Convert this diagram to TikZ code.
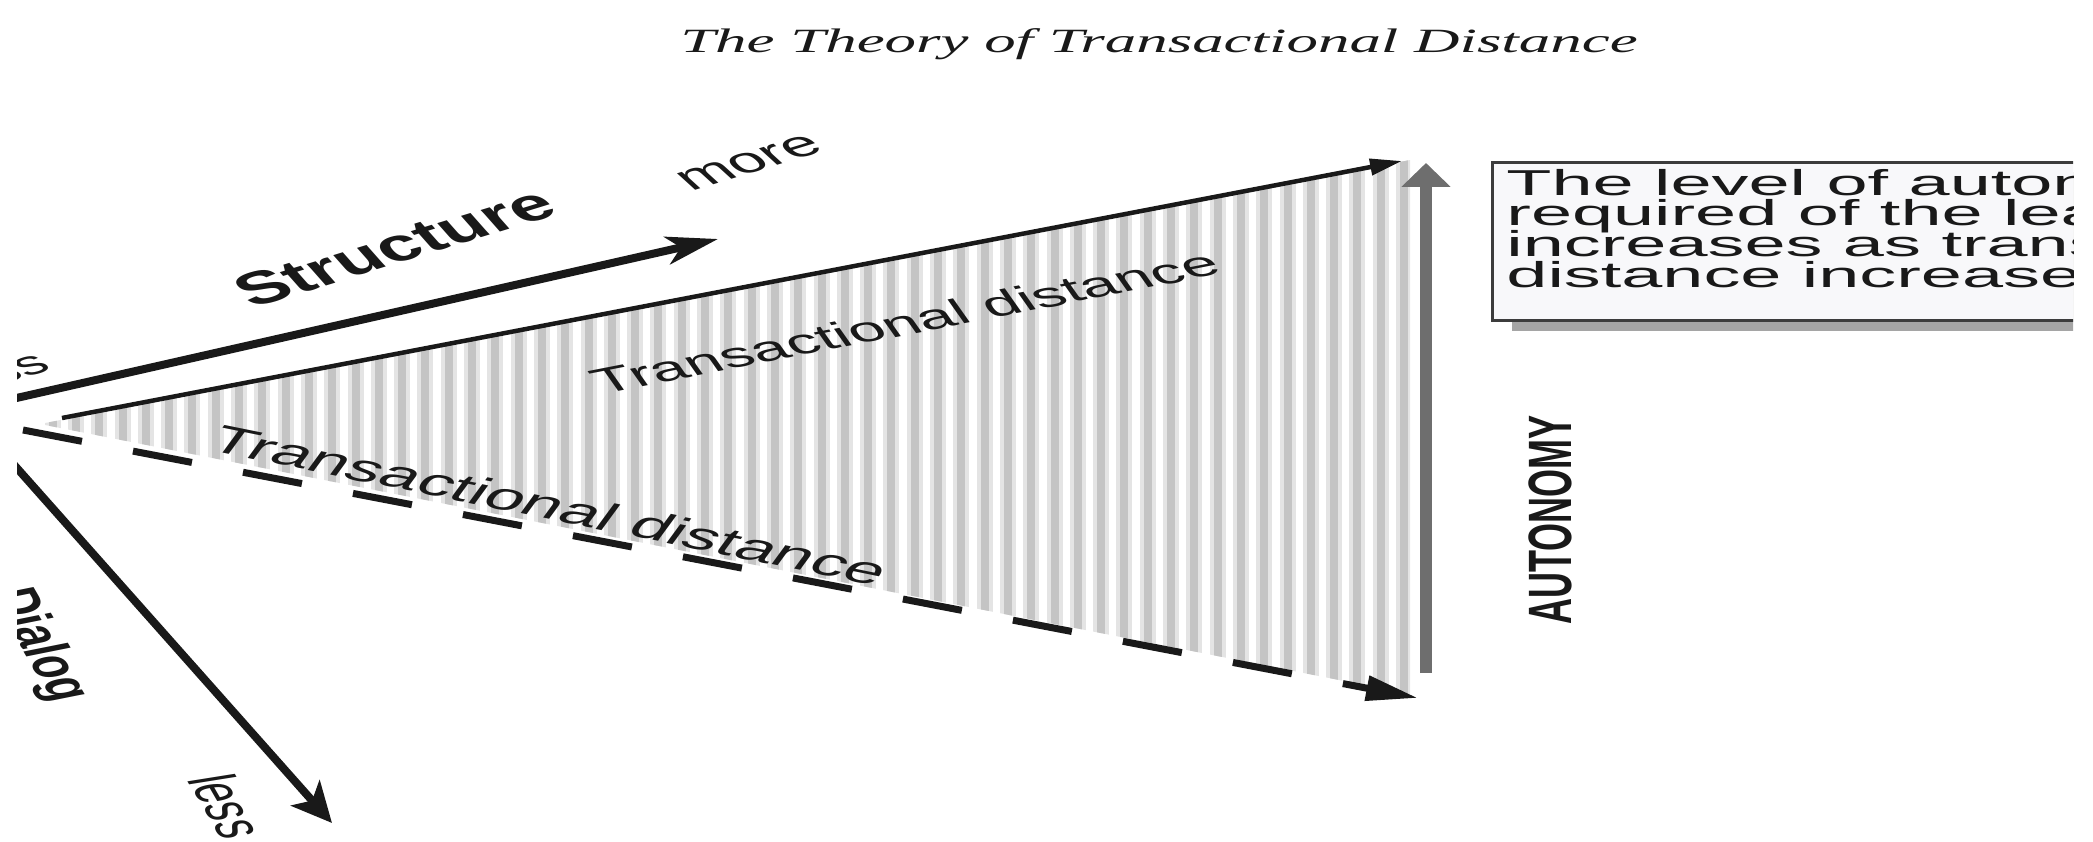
\documentclass[tikz,border=0pt]{standalone}
\usepackage{fontspec}
\setmainfont{Liberation Serif}
\setsansfont{Liberation Sans}
\usetikzlibrary{arrows.meta}
\definecolor{InkBlack}{RGB}{25,25,25}
\definecolor{StripeGrey}{RGB}{196,196,196}
\definecolor{StripeLight}{RGB}{228,228,228}
\definecolor{AxisGrey}{RGB}{110,110,110}
\definecolor{BoxEdge}{RGB}{60,60,60}
\definecolor{BoxFill}{RGB}{248,248,250}
\definecolor{ShadowGrey}{RGB}{165,165,165}
\newcommand{\tightlines}{\lineskiplimit=-100pt\relax}
\tikzset{
  label text/.style={font=\sffamily\fontsize{#1}{#1}\selectfont, text=InkBlack, inner sep=0pt, xscale=1.9},
  axis name/.style={label text=#1, font=\sffamily\bfseries\fontsize{#1}{#1}\selectfont, xscale=0.895},
}

\begin{document}
\begin{tikzpicture}[x=1pt, y=-1pt]
    \useasboundingbox (0,0) rectangle (2093,842);
    \clip (17,0) rectangle (2073,842);
    % Title
    \node[anchor=base, inner sep=0pt, xscale=1.85, text=InkBlack, font=\itshape\fontsize{34}{40}\selectfont] (title) at (1159,53) {The Theory of Transactional Distance};
    % End points
    \coordinate (sTail) at (-10,404);
    \coordinate (sTip) at (718,239);
    \coordinate (uTail) at (62,418);
    \coordinate (uTip) at (1402,161);
    \coordinate (dTail) at (23,430);
    \coordinate (dTip) at (1418,698);
    \coordinate (gBase) at (1426,673);
    \coordinate (gTip) at (1426,163);
    \coordinate (dgTail) at (8,458);
    \coordinate (dgTip) at (332,823);
    % Striped wedge
    \begin{scope}
        \clip (40,424) -- (1410,160) -- (1410,694) -- cycle;
        \foreach \i in {0,...,58} {
            \fill[StripeLight] ({1396-23.3*\i},100) rectangle ++(16,650);
            \fill[StripeGrey] ({1400-23.3*\i},100) rectangle ++(8,650);
        }
    \end{scope}
    % Axes
    \draw[InkBlack, line width=8pt, -{Stealth[length=52pt, width=28pt, inset=14pt]}] (sTail) -- (sTip);
    \draw[InkBlack, line width=8pt, -{Stealth[length=40pt, width=38pt, inset=10pt]}] (dgTail) -- (dgTip);
    \draw[InkBlack, line width=4.5pt, -{Triangle[length=32pt, width=16pt]}] (uTail) -- (uTip);
    \draw[InkBlack, line width=7pt, dash pattern=on 60pt off 52pt, -{Triangle[length=52pt, width=24pt]}] (dTail) -- (dTip);
    \draw[AxisGrey, line width=12pt, -{Triangle[length=24pt, width=48pt]}] (gBase) -- (gTip);
    % Labels
    \node[axis name=46, rotate=27.5] (structure) at (394,247) {Structure};
    \node[label text=36, rotate=30] (more) at (750,163) {more};
    \node[label text=33, rotate=30, anchor=east] (lessS) at (42.5,358.5) {less};
    \node[axis name=38, rotate=-71.2] (dialog) at (38,645) {Dialog};
    \node[label text=36, rotate=-73.1] (lessD) at (228,806) {less};
    \node[label text=35, rotate=20.3] (tdUpper) at (905,322) {Transactional distance};
    \node[label text=38, rotate=-21.1] (tdLower) at (550,505) {Transactional distance};
    \node[axis name=36, rotate=90] (autonomy) at (1550,520) {AUTONOMY};
    % Note box
    \fill[ShadowGrey] (1512,172) rectangle (2110,331);
    \draw[BoxEdge, line width=3pt, fill=BoxFill] (1492,163) rectangle (2110,320);
    \node[label text=36, font=\sffamily\fontsize{36}{30.7}\selectfont\tightlines, xscale=1.08, align=left, anchor=north west] (note) at (1506,169) {The level of autonomy\\required of the learner\\increases as transactional\\distance increases};
\end{tikzpicture}
\end{document}
